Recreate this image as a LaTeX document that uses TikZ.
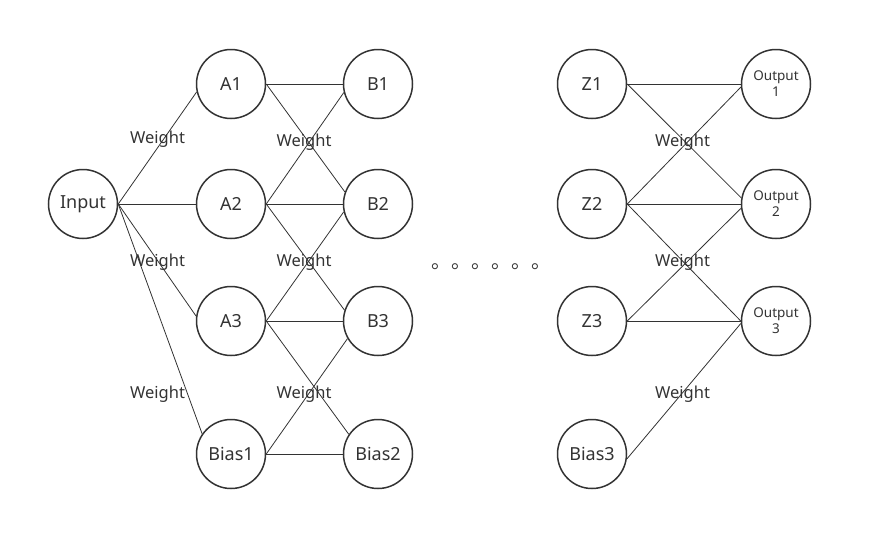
\documentclass[tikz,border=0pt]{standalone}
\usepackage{fontspec}
\setmainfont{Noto Sans}
\newfontfamily\cjk{Noto Sans CJK SC}
\definecolor{ink}{HTML}{333333}
\begin{document}
\begin{tikzpicture}[x=1pt,y=-1pt,
  neuron/.style={circle, draw=ink, line width=1.5pt, minimum size=69pt, inner sep=0pt, text=ink, font=\fontsize{18}{21}\selectfont},
  outneuron/.style={neuron, align=center, font=\fontsize{13.5}{16}\selectfont},
  link/.style={draw=ink, line width=0.8pt},
  wlabel/.style={anchor=base, inner sep=0pt, text=ink, font=\fontsize{16.5}{19}\selectfont}]
\useasboundingbox (0,0) rectangle (873,550);
% input
\node[neuron] (in) at (83,204) {Input};
% layer A
\node[neuron] (a1) at (231,84) {A1};
\node[neuron] (a2) at (231,204) {A2};
\node[neuron] (a3) at (231,321) {A3};
\node[neuron] (bias1) at (231,454) {Bias1};
% layer B
\node[neuron] (b1) at (378,84) {B1};
\node[neuron] (b2) at (378,204) {B2};
\node[neuron] (b3) at (378,321) {B3};
\node[neuron] (bias2) at (378,454) {Bias2};
% layer Z
\node[neuron] (z1) at (592,84) {Z1};
\node[neuron] (z2) at (592,204) {Z2};
\node[neuron] (z3) at (592,321) {Z3};
\node[neuron] (bias3) at (592,454) {Bias3};
% outputs
\node[outneuron] (o1) at (776,84) {Output\\1};
\node[outneuron] (o2) at (776,204) {Output\\2};
\node[outneuron] (o3) at (776,321) {Output\\3};
% dots
\node[anchor=base west, inner sep=0pt, text=ink, font=\cjk\fontsize{20}{20}\selectfont] (dots) at (431,268) {。。。。。。};
% links input -> A
\draw[link] (in.east) -- (a1.193);
\draw[link] (in.east) -- (a2.west);
\draw[link] (in.east) -- (a3.172);
\draw[link] (in.east) -- (bias1.145);
% links A -> B
\draw[link] (a1.east) -- (b1.west);
\draw[link] (a1.east) -- (b2.160);
\draw[link] (a2.east) -- (b1.194);
\draw[link] (a2.east) -- (b2.west);
\draw[link] (a2.east) -- (b3.162);
\draw[link] (a3.east) -- (b2.193);
\draw[link] (a3.east) -- (b3.west);
\draw[link] (a3.east) -- (bias2.146);
\draw[link] (bias1.east) -- (b3.210);
\draw[link] (bias1.east) -- (bias2.west);
% links Z -> Output
\draw[link] (z1.east) -- (o1.west);
\draw[link] (z1.east) -- (o2.170);
\draw[link] (z2.east) -- (o1.185);
\draw[link] (z2.east) -- (o2.west);
\draw[link] (z2.east) -- (o3.west);
\draw[link] (z3.east) -- (o2.187);
\draw[link] (z3.east) -- (o3.west);
\draw[link] (bias3.352) -- (o3.184);
% weight labels
\node[wlabel] (w1) at (157.5,143.5) {Weight};
\node[wlabel] (w2) at (157.5,266) {Weight};
\node[wlabel] (w3) at (157.5,398) {Weight};
\node[wlabel] (w4) at (304,146.5) {Weight};
\node[wlabel] (w5) at (304,266) {Weight};
\node[wlabel] (w6) at (304,398) {Weight};
\node[wlabel] (w7) at (682.5,146.5) {Weight};
\node[wlabel] (w8) at (682.5,266) {Weight};
\node[wlabel] (w9) at (682.5,398) {Weight};
\end{tikzpicture}
\end{document}
